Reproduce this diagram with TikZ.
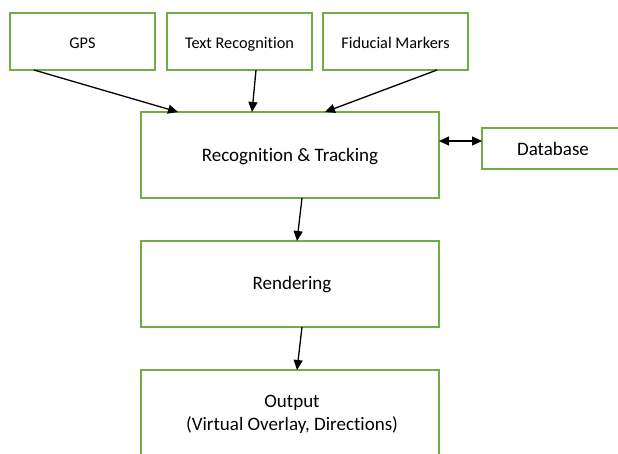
\documentclass[tikz,border=0pt]{standalone}
\usepackage{fontspec}
\setmainfont{Carlito}[Ligatures={NoCommon}]
\usetikzlibrary{arrows.meta}
\definecolor{boxgreen}{RGB}{112,173,71}
\begin{document}
\begin{tikzpicture}[x=1pt,y=-1pt,
  blk/.style={draw=boxgreen, line width=1.6pt, fill=white},
  lbl/.style={font=\fontsize{19}{23}\selectfont, align=center, inner sep=0pt},
  toplbl/.style={font=\fontsize{16.3}{20}\selectfont, inner sep=0pt, anchor=base},
  conn/.style={line width=1.3pt, -{Triangle[length=10pt,width=9pt]}}]
\useasboundingbox (0,0) rectangle (618,453);
\begin{scope}
\clip (0,0) rectangle (618,453);
% boxes
\draw[blk] (10,13) rectangle (155,70);
\node[toplbl] (gps) at (82.5,48) {GPS};
\coordinate (gpsS) at (34,70);
\draw[blk] (167,13) rectangle (312,70);
\node[toplbl] (txt) at (239.5,48) {Text Recognition};
\coordinate (txtS) at (256,70);
\draw[blk] (323,13) rectangle (468,70);
\node[toplbl] (fid) at (395.5,48) {Fiducial Markers};
\coordinate (fidS) at (437,70);
\draw[blk] (141,112) rectangle (439,198);
\node[lbl] (rt) at (290,157) {Recognition \& Tracking};
\coordinate (rtN1) at (178,112);
\coordinate (rtN2) at (252,112);
\coordinate (rtN3) at (325,112);
\coordinate (rtS) at (302,198);
\coordinate (rtE) at (439,141);
\draw[blk] (482,128) rectangle (640,169);
\node[lbl] (db) at (553,149) {Database};
\coordinate (dbW) at (482,141);
\draw[blk] (141,241) rectangle (439,327);
\node[lbl] (ren) at (292,285) {Rendering};
\coordinate (renN) at (297,241);
\coordinate (renS) at (302,327);
\draw[blk] (141,370) rectangle (439,470);
\node[lbl] (out) at (292,414) {Output\\(Virtual Overlay, Directions)};
\coordinate (outN) at (297,370);
\end{scope}
% connectors
\draw[conn] (gpsS) -- (rtN1);
\draw[conn] (txtS) -- (rtN2);
\draw[conn] (fidS) -- (rtN3);
\draw[conn] (rtS) -- (renN);
\draw[conn] (renS) -- (outN);
\draw[conn, {Triangle[length=10pt,width=9pt]}-{Triangle[length=10pt,width=9pt]}] (rtE) -- (dbW);
\end{tikzpicture}
\end{document}
